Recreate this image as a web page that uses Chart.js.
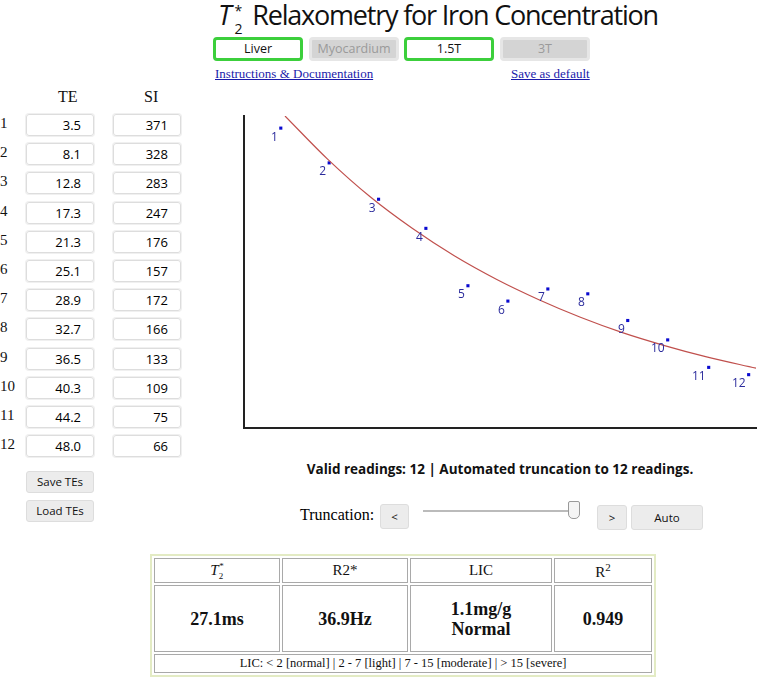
<!DOCTYPE html>
<html>
<head>
<meta charset="utf-8">
<script src="https://cdn.jsdelivr.net/npm/chart.js@4"></script>
<style>
	body { margin: 0; width: 760px; height: 681px; position: relative; background: #fff; font-family: 'Open Sans', sans-serif; overflow: hidden; }
	.abs { position: absolute; }
	#title { left: 218px; top: -4px; font-size: 27px; color: #111; white-space: nowrap; }
	#title .rest { letter-spacing: -1.2px; margin-left: 10px; }
	.tog { position: absolute; top: 37px; height: 18px; width: 84px; border-radius: 4px; font-size: 12.5px; text-align: center; line-height: 18px; }
	.on { border: 3px solid #3ccf3c; background: #fff; color: #111; }
	.off { border: 3px solid #e6e6e6; background: #d4d4d4; color: #9a9a9a; }
	.link { position: absolute; top: 66px; font-family: 'Liberation Serif', serif; font-size: 13px; color: #1a1aaa; text-decoration: underline; }
	.hdr { position: absolute; top: 88px; font-family: 'Liberation Serif', serif; font-size: 16px; color: #111; }
	.num { position: absolute; left: 0; font-family: 'Liberation Serif', serif; font-size: 15px; color: #111; }
	.box { position: absolute; width: 66px; height: 20px; border: 1px solid #ddd; border-radius: 3px; box-shadow: 0 0 0 1px #f0f0f0; font-size: 13px; text-align: right; line-height: 20px; }
	.box span { padding-right: 12px; }
	.btn { position: absolute; background: #ececec; border: 1px solid #ddd; border-radius: 3px; font-size: 11.5px; text-align: center; color: #111; }
	#valid { left: 240px; width: 520px; top: 460px; text-align: center; font-weight: bold; font-size: 13.5px; color: #111; }
	#trunc { left: 300px; top: 506px; font-family: 'Liberation Serif', serif; font-size: 16px; }
	#track { left: 423px; top: 510px; width: 152px; height: 2px; background: #bbb; }
	#thumb { left: 568px; top: 501px; width: 10px; height: 16px; border: 1px solid #999; border-radius: 2px 2px 5px 5px; background: #f4f4f4; }
	#res { left: 150px; top: 554px; border: 2px solid #e3ebc4; border-spacing: 2px; font-family: 'Liberation Serif', serif; color: #111; width: 506px; }
	#res td { border: 1px solid #a9a9a9; text-align: center; padding: 0; }
	#chartWrap { left: 234px; top: 106px; width: 526px; height: 330px; }
</style>
</head>
<body>
<div class="abs" id="title"><i>T</i><span style="position:relative;font-size:14px;top:9px;margin-left:3px">2</span><span style="position:relative;font-size:14px;top:-9px;margin-left:-8px">*</span><span class="rest">Relaxometry for Iron Concentration</span></div>

<div class="tog on" style="left:213px">Liver</div>
<div class="tog off" style="left:309px">Myocardium</div>
<div class="tog on" style="left:404px">1.5T</div>
<div class="tog off" style="left:500px">3T</div>
<div class="link" style="left:215px">Instructions &amp; Documentation</div>
<div class="link" style="left:511px">Save as default</div>

<div class="hdr" style="left:58px">TE</div>
<div class="hdr" style="left:144px">SI</div>
<div id="rows"></div>

<div class="btn" style="left:26px;top:471px;width:66px;height:20px;line-height:20px">Save TEs</div>
<div class="btn" style="left:26px;top:500px;width:66px;height:20px;line-height:20px">Load TEs</div>

<div class="abs" id="valid">Valid readings: 12 | Automated truncation to 12 readings.</div>
<div class="abs" id="trunc">Truncation:</div>
<div class="btn" style="left:380px;top:504px;width:27px;height:23px;line-height:23px">&lt;</div>
<div class="abs" id="track"></div>
<div class="abs" id="thumb"></div>
<div class="btn" style="left:597px;top:505px;width:28px;height:23px;line-height:23px">&gt;</div>
<div class="btn" style="left:631px;top:505px;width:70px;height:23px;line-height:23px">Auto</div>

<table class="abs" id="res">
	<tr style="height:25px;font-size:15px">
		<td style="width:124px"><i>T</i><sub style="font-size:9px">2</sub><sup style="font-size:9px;margin-left:-4px">*</sup></td>
		<td style="width:124px">R2*</td>
		<td style="width:140px">LIC</td>
		<td>R<sup style="font-size:11px">2</sup></td>
	</tr>
	<tr style="height:67px;font-size:18px;font-weight:bold;line-height:20px">
		<td>27.1ms</td><td>36.9Hz</td><td>1.1mg/g<br>Normal</td><td>0.949</td>
	</tr>
	<tr style="height:19px;font-size:12.5px">
		<td colspan="4">LIC: &lt; 2 [normal] | 2 - 7 [light] | 7 - 15 [moderate] | &gt; 15 [severe]</td>
	</tr>
</table>

<div class="abs" id="chartWrap"><canvas id="chart" width="526" height="330"></canvas></div>

<script>
// echo times (ms) and signal intensities from the input table
const te = [3.5, 8.1, 12.8, 17.3, 21.3, 25.1, 28.9, 32.7, 36.5, 40.3, 44.2, 48.0]
const si = [371, 328, 283, 247, 176, 157, 172, 166, 133, 109, 75, 66]
const pointNames = ['1', '2', '3', '4', '5', '6', '7', '8', '9', '10', '11', '12']

// fitted decay curve
const fitTe = [3.9, 8, 12, 16, 20, 24, 28, 32, 36, 40, 44, 48.7]
const fitSi = [386, 332, 286, 247, 213, 184, 159, 137, 118, 102, 88, 74]

const rows = document.getElementById('rows')
te.forEach((t, i) => {
	const y = 114 + i * 29.2
	rows.insertAdjacentHTML('beforeend',
		`<div class="num" style="top:${y + 1}px">${i + 1}</div>` +
		`<div class="box" style="left:26px;top:${y}px"><span>${t.toFixed(1)}</span></div>` +
		`<div class="box" style="left:113px;top:${y}px"><span>${si[i]}</span></div>`)
})

const pointLabels = {
	id: 'pointLabels',
	afterDatasetsDraw(chart) {
		const ctx = chart.ctx
		const meta = chart.getDatasetMeta(1)
		ctx.save()
		ctx.font = '12px "Open Sans", sans-serif'
		ctx.fillStyle = '#2b2b9c'
		ctx.textAlign = 'right'
		ctx.textBaseline = 'top'
		meta.data.forEach((pt, i) => {
			ctx.fillText(pointNames[i], pt.x - 3, pt.y + 3)
		})
		ctx.restore()
	}
}

const ctx = document.getElementById('chart').getContext('2d')
new Chart(ctx, {
	type: 'scatter',
	data: {
		datasets: [{
			type: 'line',
			data: fitTe.map((x, i) => ({ x, y: fitSi[i] })),
			borderColor: '#c0504d',
			borderWidth: 1.2,
			pointRadius: 0,
			cubicInterpolationMode: 'monotone',
			fill: false
		}, {
			data: te.map((x, i) => ({ x, y: si[i] })),
			pointStyle: 'rect',
			pointRadius: 2.2,
			backgroundColor: '#0a0ad0',
			borderColor: '#0a0ad0',
			borderWidth: 0
		}]
	},
	options: {
		responsive: false,
		animation: false,
		layout: { padding: { left: 10, top: 10, right: 3, bottom: 8 } },
		scales: {
			x: {
				type: 'linear',
				min: 0,
				max: 48.7,
				ticks: { display: false },
				grid: { display: false, drawTicks: false },
				border: { display: true, color: '#222', width: 2 }
			},
			y: {
				min: 0,
				max: 386,
				ticks: { display: false },
				grid: { display: false, drawTicks: false },
				border: { display: true, color: '#222', width: 2 }
			}
		},
		plugins: {
			legend: { display: false },
			tooltip: { enabled: false }
		}
	},
	plugins: [pointLabels]
})
</script>
</body>
</html>
